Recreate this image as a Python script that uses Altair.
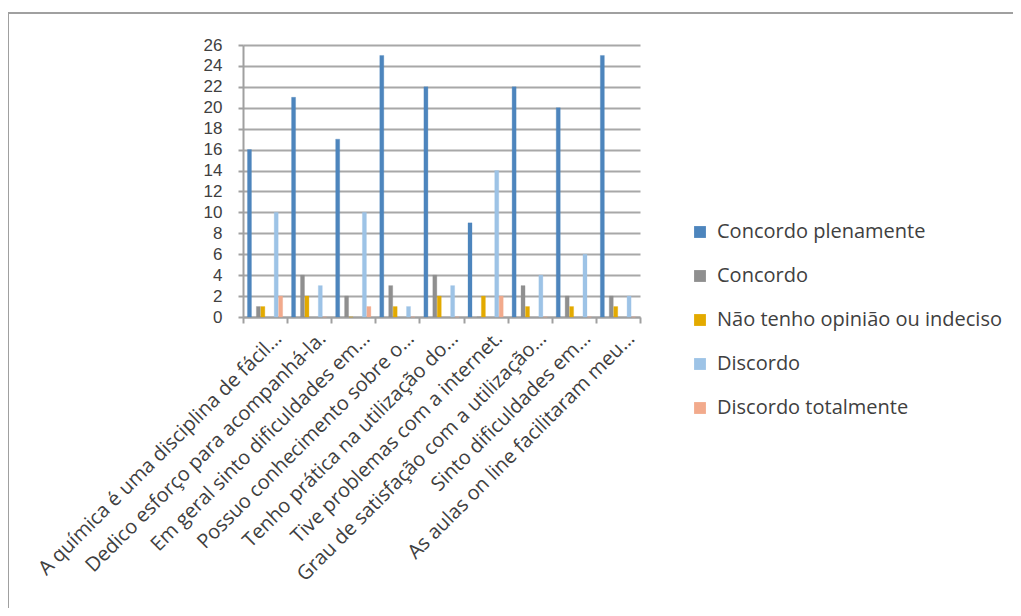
import altair as alt
import pandas as pd

categories = [
    "A química é uma disciplina de fácil…",
    "Dedico esforço para acompanhá-la.",
    "Em geral sinto dificuldades em…",
    "Possuo conhecimento sobre o…",
    "Tenho prática na utilização do…",
    "Tive problemas com a internet.",
    "Grau de satisfação com a utilização…",
    "Sinto dificuldades em…",
    "As aulas on line facilitaram meu…",
]
series = ["Concordo plenamente", "Concordo", "Não tenho opinião ou indeciso",
          "Discordo", "Discordo totalmente"]
concordo_plenamente = [16, 21, 17, 25, 22, 9, 22, 20, 25]
concordo = [1, 4, 2, 3, 4, 0, 3, 2, 2]
nao_tenho_opiniao = [1, 2, 0, 1, 2, 2, 1, 1, 1]
discordo = [10, 3, 10, 1, 3, 14, 4, 6, 2]
discordo_totalmente = [2, 0, 1, 0, 0, 2, 0, 0, 0]
colors = ["#4d85bd", "#8f8f8f", "#e3aa00", "#9dc3e6", "#f2aa8c"]
y_ticks = list(range(0, 27, 2))

values = [concordo_plenamente, concordo, nao_tenho_opiniao, discordo, discordo_totalmente]
rows = []
for s, vals in zip(series, values):
    for c, v in zip(categories, vals):
        rows.append({"categoria": c, "serie": s, "valor": v})
df = pd.DataFrame(rows)

# offset slots (with empty spacers) to mimic the uneven spacing of the original
offset_domain = ["_a", series[0], "_b", series[1], series[2], "_c", "_d",
                 series[3], series[4], "_e"]

FONT = "Open Sans"
YFONT = "Liberation Sans"

bars = alt.Chart(df).mark_bar(strokeWidth=0.6, strokeOpacity=0.5).encode(
    x=alt.X("categoria:N", sort=categories, title=None,
            scale=alt.Scale(paddingInner=0, paddingOuter=0),
            axis=alt.Axis(labelAngle=-45, labelFontSize=20, labelFont=FONT,
                          labelColor="#404040", labelLimit=500, labelOffset=6,
                          labelPadding=5,
                          tickBand="extent", tickSize=6, tickColor="#a0a0a0",
                          tickWidth=2, domainColor="#a0a0a0", domainWidth=2,
                          grid=False)),
    xOffset=alt.XOffset("serie:N", scale=alt.Scale(domain=offset_domain,
                                                   paddingInner=0.1)),
    y=alt.Y("valor:Q", title=None,
            scale=alt.Scale(domain=[0, 26], nice=False),
            axis=alt.Axis(values=y_ticks, labelFontSize=17, labelFont=YFONT,
                          labelColor="#404040", labelPadding=16, tickSize=5,
                          tickColor="#a0a0a0", tickWidth=2,
                          domainColor="#a0a0a0", domainWidth=2,
                          gridColor="#a8a8a8", gridWidth=2)),
    color=alt.Color("serie:N", sort=series,
                    scale=alt.Scale(domain=series, range=colors),
                    legend=alt.Legend(title=None, orient="none", legendX=447,
                                      legendY=177, symbolType="square",
                                      symbolSize=140, symbolStrokeWidth=0,
                                      labelFontSize=20, labelFont=FONT,
                                      labelColor="#404040", rowPadding=24,
                                      labelOffset=7, labelLimit=400)),
    stroke=alt.Color("serie:N", sort=series,
                     scale=alt.Scale(domain=series, range=colors), legend=None),
)

frame_df = pd.DataFrame({"k": [0]})
top_line = alt.Chart(frame_df).mark_rule(color="#a0a0a0", strokeWidth=2).encode(
    x=alt.value(-235), x2=alt.value(800), y=alt.value(-32))
left_line = alt.Chart(frame_df).mark_rule(color="#a0a0a0", strokeWidth=2).encode(
    x=alt.value(-235), y=alt.value(-32), y2=alt.value(600))

chart = alt.layer(bars, top_line, left_line).properties(
    width=397, height=272,
    autosize=alt.AutoSizeParams(type="none"),
    padding={"left": 235, "top": 37, "right": 373, "bottom": 291},
    background="white",
).configure_view(stroke=None)

chart.save("out.html", embed_options={"renderer": "svg", "actions": False})
